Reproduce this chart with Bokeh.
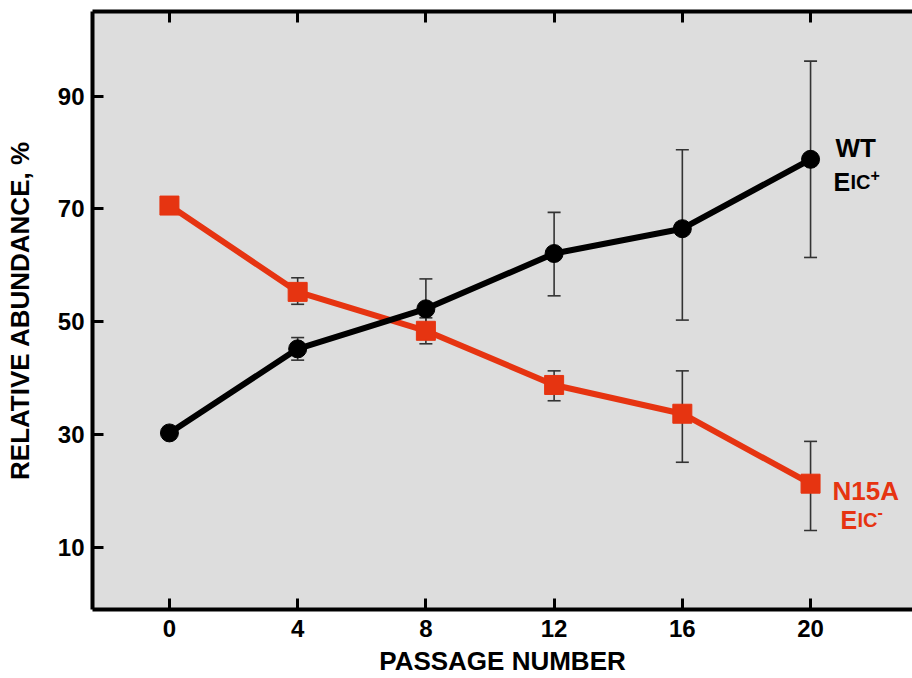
from bokeh.plotting import figure
from bokeh.models import ColumnDataSource, Whisker, LinearAxis, Range1d, Label, FixedTicker, TeeHead
from bokeh.embed import file_html
from bokeh.resources import INLINE

# ---- data ----
passage = [0, 4, 8, 12, 16, 20]
wt_mean = [30.3, 45.2, 52.3, 62.1, 66.5, 78.8]
wt_lower = [30.3, 43.2, 47.0, 54.6, 50.3, 61.4]
wt_upper = [30.3, 47.2, 57.6, 69.4, 80.5, 96.2]
n15a_mean = [70.6, 55.3, 48.4, 38.8, 33.7, 21.3]
n15a_lower = [70.6, 53.1, 46.1, 36.0, 25.1, 13.0]
n15a_upper = [70.6, 57.8, 50.7, 41.3, 41.3, 28.8]
x_ticks = [0, 4, 8, 12, 16, 20]
y_ticks = [10, 30, 50, 70, 90]

RED = "#e63411"
FONT = "Liberation Sans"

p = figure(width=912, height=678,
           x_range=Range1d(-2.4, 23.18), y_range=Range1d(-1, 105),
           output_backend="svg", toolbar_location=None,
           min_border_left=92, min_border_right=0, min_border_top=11, min_border_bottom=0,
           background_fill_color="#dddddd", border_fill_color="white",
           outline_line_color=None)
p.grid.visible = False


def style_axis(ax, ticks):
    ax.ticker = FixedTicker(ticks=ticks)
    ax.axis_line_color = "black"
    ax.axis_line_width = 4
    ax.major_tick_in = 11
    ax.major_tick_out = 0
    ax.major_tick_line_width = 3
    ax.major_tick_line_color = "black"
    ax.minor_tick_line_color = None
    ax.major_label_text_font = FONT
    ax.major_label_text_font_style = "bold"
    ax.major_label_text_font_size = "24px"
    ax.major_label_text_color = "black"
    ax.axis_label_text_font = FONT
    ax.axis_label_text_font_style = "bold"
    ax.axis_label_text_color = "black"


xa = p.xaxis[0]
style_axis(xa, x_ticks)
xa.axis_label = "PASSAGE NUMBER"
xa.axis_label_text_font_size = "26px"
xa.major_label_standoff = 10
xa.axis_label_standoff = 6

ya = p.yaxis[0]
style_axis(ya, y_ticks)
ya.axis_label = "RELATIVE ABUNDANCE, %"
ya.axis_label_text_font_size = "26px"
ya.major_label_standoff = 8
ya.axis_label_standoff = 20

top = LinearAxis()
style_axis(top, x_ticks)
top.major_label_text_font_size = "1px"
top.major_label_text_color = None
top.major_label_standoff = 0
p.add_layout(top, "above")

# error bars
def whisker_source(xs, lo, hi):
    keep = [i for i in range(len(xs)) if hi[i] != lo[i]]
    return ColumnDataSource(dict(x=[xs[i] for i in keep],
                                 lower=[lo[i] for i in keep],
                                 upper=[hi[i] for i in keep]))

for lo, hi in [(wt_lower, wt_upper), (n15a_lower, n15a_upper)]:
    src = whisker_source(passage, lo, hi)
    w = Whisker(base="x", lower="lower", upper="upper", source=src,
                line_color="#333333", line_width=1.6,
                upper_head=TeeHead(size=13, line_color="#333333", line_width=1.6),
                lower_head=TeeHead(size=13, line_color="#333333", line_width=1.6),
                level="underlay")
    p.add_layout(w)

wt_src = ColumnDataSource(dict(x=passage, y=wt_mean))
n_src = ColumnDataSource(dict(x=passage, y=n15a_mean))

p.line("x", "y", source=n_src, line_color=RED, line_width=6)
p.line("x", "y", source=wt_src, line_color="black", line_width=6)
p.scatter("x", "y", source=n_src, marker="square", size=19, fill_color=RED, line_color=RED)
p.scatter("x", "y", source=wt_src, marker="circle", size=18, fill_color="black", line_color="black")

# series labels
def lab(text, y, xoff, size, color, yoff=0):
    p.add_layout(Label(x=20, y=y, x_offset=xoff, y_offset=yoff, text=text,
                       text_font=FONT, text_font_style="bold", text_font_size=size,
                       text_color=color, text_baseline="alphabetic", text_align="left"))

lab("WT", 80.8, 25, "26px", "black")
lab("E", 74.7, 23, "25px", "black")
lab("IC", 74.7, 40, "20px", "black")
lab("+", 74.7, 60, "16px", "black", yoff=7)

lab("N15A", 20.0, 22, "26px", RED)
lab("E", 14.8, 30, "25px", RED)
lab("IC", 14.8, 47, "20px", RED)
lab("-", 14.8, 67, "16px", RED, yoff=8)

open("out.html", "w").write(file_html(p, INLINE))
